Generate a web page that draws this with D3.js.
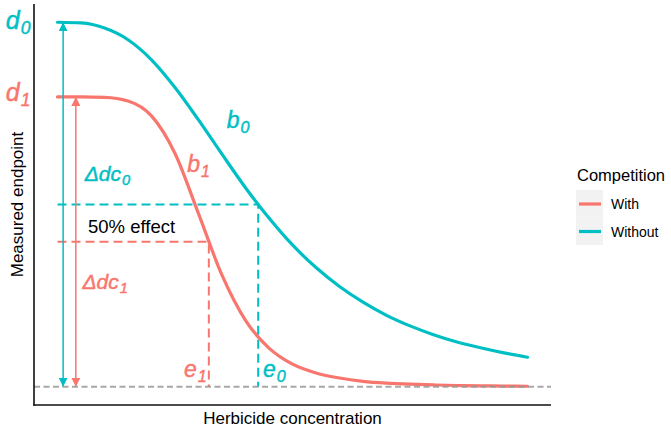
<!DOCTYPE html>
<meta charset='utf-8'>
<head>
  <title>Dose response</title>
</head>

<style>
body {
  margin: 0;
  font-family: "Liberation Sans", Arial, Helvetica, sans-serif;
}

.curve {
  fill: none;
  stroke-width: 3.2px;
  stroke-linecap: round;
}

.guide {
  fill: none;
  stroke-width: 2px;
  stroke-dasharray: 9 5;
}

.baseline {
  stroke: #999;
  stroke-width: 2.2px;
  stroke-dasharray: 6 3.5;
  opacity: 0.85;
}

.axis-line {
  stroke: #111;
  stroke-width: 1.6px;
}

.label {
  font-style: italic;
  stroke-width: 0.45px;
}

.axis-title {
  font-size: 17px;
  fill: #000;
}
</style>

<body>
  <svg width='671' height='429'></svg>

  <script src='https://cdn.jsdelivr.net/npm/d3@7'></script>
  <script>
var width = 671, height = 429;
var panel = {left: 34, right: 551, top: 4, bottom: 405};

var groups = ['With', 'Without'];
var colors = ['#F8766D', '#00BFC4'];

// concentrations and curve heights
var conc = [0, 0.5, 1, 1.5, 2, 2.5, 3, 3.5, 4, 4.5, 5, 5.5, 6, 6.5, 7, 7.5, 8, 8.5, 9, 9.5, 10];
var withComp = [79.5, 79.5, 79.4, 78.4, 74.3, 64.0, 47.5, 30.6, 18.2, 10.6, 6.2, 3.8, 2.4, 1.5, 1.0, 0.7, 0.5, 0.35, 0.25, 0.2, 0.15];
var withoutComp = [100, 99.8, 98.4, 95.2, 89.7, 82.1, 73.2, 63.8, 54.6, 46.3, 38.9, 32.7, 27.5, 23.2, 19.6, 16.7, 14.3, 12.3, 10.7, 9.3, 8.1];

// upper limits d, ED50 e, and arrow positions for each group
var upper = [79.5, 100];
var ed50 = [3.22, 4.27];
var arrowX = [0.39, 0.12];

// annotation labels: [main, subscript, colour index, x, y, size]
var labels = [
  ['d', '0', 1, -1.1, 98.2, 25],
  ['d', '1', 0, -1.1, 78.4, 25],
  ['b', '0', 1, 3.6, 71.0, 23],
  ['b', '1', 0, 2.76, 58.9, 23],
  ['\u0394dc', '0', 1, 0.58, 56.5, 21],
  ['\u0394dc', '1', 0, 0.53, 26.8, 21],
  ['e', '1', 0, 2.69, 2.7, 23],
  ['e', '0', 1, 4.37, 2.7, 23]
];

var x = d3.scaleLinear().domain([-0.5, 10.5]).range([panel.left, panel.right]);
var y = d3.scaleLinear().domain([-5, 105]).range([panel.bottom, panel.top]);

var svg = d3.select('svg');

svg.append('defs').selectAll('marker')
  .data(colors)
  .enter()
  .append('marker')
  .attr('id', function(d, i) { return 'arrow' + i; })
  .attr('viewBox', '0 0 10 10')
  .attr('refX', 10).attr('refY', 5)
  .attr('markerWidth', 6).attr('markerHeight', 6)
  .attr('markerUnits', 'strokeWidth')
  .attr('orient', 'auto-start-reverse')
  .append('path')
  .attr('d', 'M0,0L10,5L0,10Z')
  .attr('fill', function(d) { return d; });

var series = [withComp, withoutComp];

var line = d3.line()
  .x(function(d) { return x(d[0]); })
  .y(function(d) { return y(d[1]); })
  .curve(d3.curveMonotoneX);

// 50% guides
[0, 1].forEach(function(i) {
  var half = upper[i] / 2;
  svg.append('path')
    .attr('class', 'guide')
    .attr('stroke', colors[i])
    .attr('d', 'M' + x(0) + ',' + y(half) + 'L' + x(ed50[i]) + ',' + y(half) + 'L' + x(ed50[i]) + ',' + y(0));
});

// curves
svg.selectAll('path.curve')
  .data(series)
  .enter()
  .append('path')
  .attr('class', 'curve')
  .attr('stroke', function(d, i) { return colors[i]; })
  .attr('d', function(d) {
    return line(conc.map(function(c, j) { return [c, d[j]]; }));
  });

// double arrows for the ranges
[1, 0].forEach(function(i) {
  svg.append('line')
    .attr('x1', x(arrowX[i])).attr('x2', x(arrowX[i]))
    .attr('y1', y(upper[i])).attr('y2', y(0))
    .attr('stroke', colors[i])
    .attr('stroke-width', 1.5)
    .attr('marker-start', 'url(#arrow' + i + ')')
    .attr('marker-end', 'url(#arrow' + i + ')');
});

// lower limit
svg.append('line')
  .attr('class', 'baseline')
  .attr('x1', panel.left).attr('x2', panel.right)
  .attr('y1', y(0)).attr('y2', y(0));

// axis lines
svg.append('line').attr('class', 'axis-line')
  .attr('x1', panel.left).attr('x2', panel.left)
  .attr('y1', panel.top).attr('y2', panel.bottom + 0.8);
svg.append('line').attr('class', 'axis-line')
  .attr('x1', panel.left - 0.8).attr('x2', panel.right)
  .attr('y1', panel.bottom).attr('y2', panel.bottom);

// annotation labels
var lab = svg.selectAll('text.label')
  .data(labels)
  .enter()
  .append('text')
  .attr('class', 'label')
  .attr('x', function(d) { return x(d[3]); })
  .attr('y', function(d) { return y(d[4]); })
  .attr('fill', function(d) { return colors[d[2]]; })
  .attr('stroke', function(d) { return colors[d[2]]; })
  .style('font-size', function(d) { return d[5] + 'px'; });

lab.append('tspan').text(function(d) { return d[0]; });
lab.append('tspan')
  .attr('dy', function(d) { return d[5] * 0.2; })
  .attr('dx', 1)
  .style('font-size', function(d) { return (d[5] * 0.7) + 'px'; })
  .text(function(d) { return d[1]; });

svg.append('text')
  .attr('x', x(0.65))
  .attr('y', y(42.3))
  .style('font-size', '18.5px')
  .text('50% effect');

// axis titles
svg.append('text')
  .attr('class', 'axis-title')
  .attr('text-anchor', 'middle')
  .attr('x', (panel.left + panel.right) / 2)
  .attr('y', 424)
  .text('Herbicide concentration');

svg.append('text')
  .attr('class', 'axis-title')
  .attr('text-anchor', 'middle')
  .attr('transform', 'translate(23,' + (panel.top + panel.bottom) / 2 + ') rotate(-90)')
  .text('Measured endpoint');

// legend
var legend = svg.append('g').attr('transform', 'translate(576,190)');

legend.append('text')
  .attr('x', 1).attr('y', -9)
  .style('font-size', '16.5px')
  .text('Competition');

var keys = legend.selectAll('g.key')
  .data(groups)
  .enter()
  .append('g')
  .attr('class', 'key')
  .attr('transform', function(d, i) { return 'translate(0,' + (i * 27.5) + ')'; });

keys.append('rect')
  .attr('width', 27).attr('height', 27.5)
  .attr('fill', '#f2f2f2');

keys.append('line')
  .attr('x1', 3).attr('x2', 25)
  .attr('y1', 14).attr('y2', 14)
  .attr('stroke', function(d, i) { return colors[i]; })
  .attr('stroke-width', 3.2);

keys.append('text')
  .attr('x', 35).attr('y', 19)
  .style('font-size', '14px')
  .text(function(d) { return d; });
  </script>
</body>
</html>
